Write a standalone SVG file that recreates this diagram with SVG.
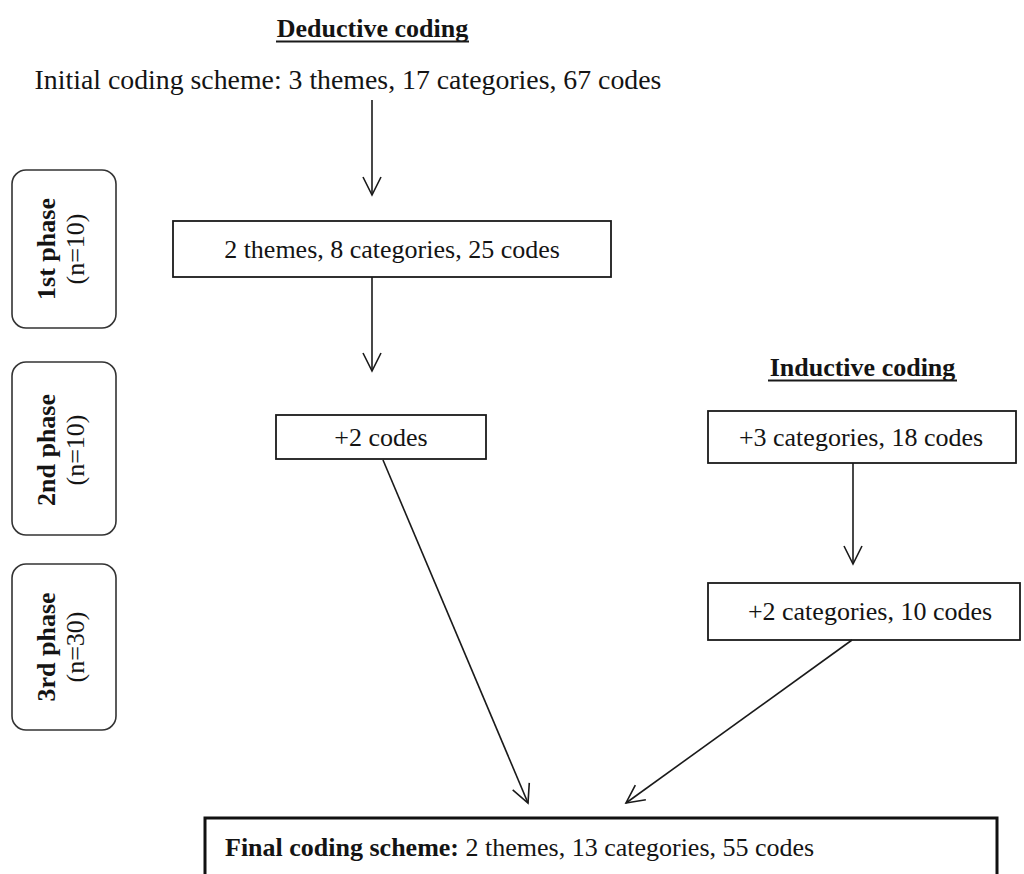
<svg xmlns="http://www.w3.org/2000/svg" width="1024" height="874" viewBox="0 0 1024 874">
  <style>
    .t { font-family: "Liberation Serif", "Times New Roman", serif; font-size: 26px; fill: #141414; }
    .b { font-weight: bold; }
    .box { fill: #ffffff; stroke: #1a1a1a; stroke-width: 1.8; }
    .phase { fill: #ffffff; stroke: #333333; stroke-width: 1.6; }
    .edge { fill: none; stroke: #1a1a1a; stroke-width: 1.6; }
    .ul { stroke: #1a1a1a; stroke-width: 1.8; }
  </style>
  <defs>
    <marker id="open" markerUnits="userSpaceOnUse" markerWidth="22" markerHeight="22" viewBox="0 0 22 22" refX="19" refY="11" orient="auto">
      <path d="M1,2 L19,11 L1,20" fill="none" stroke="#1a1a1a" stroke-width="1.6"/>
    </marker>
  </defs>
  <rect width="1024" height="874" fill="#ffffff"/>

  <!-- section headings -->
  <g id="heading-deductive">
    <text class="t b" x="372.5" y="37" text-anchor="middle">Deductive coding</text>
    <line class="ul" x1="276" y1="41.5" x2="469" y2="41.5"/>
  </g>
  <g id="heading-inductive">
    <text class="t b" x="862.5" y="376" text-anchor="middle">Inductive coding</text>
    <line class="ul" x1="768" y1="380.5" x2="957" y2="380.5"/>
  </g>

  <!-- phase labels -->
  <g id="phase-1">
    <rect class="phase" x="12" y="170" width="104" height="158" rx="14"/>
    <text class="t b" transform="translate(55,249) rotate(-90)" text-anchor="middle">1st phase</text>
    <text class="t" transform="translate(84,249) rotate(-90)" text-anchor="middle">(n=10)</text>
  </g>
  <g id="phase-2">
    <rect class="phase" x="12" y="362" width="104" height="173" rx="14"/>
    <text class="t b" transform="translate(55,450) rotate(-90)" text-anchor="middle">2nd phase</text>
    <text class="t" transform="translate(84,450) rotate(-90)" text-anchor="middle">(n=10)</text>
  </g>
  <g id="phase-3">
    <rect class="phase" x="12" y="564" width="104" height="166" rx="14"/>
    <text class="t b" transform="translate(55,647) rotate(-90)" text-anchor="middle">3rd phase</text>
    <text class="t" transform="translate(84,647) rotate(-90)" text-anchor="middle">(n=30)</text>
  </g>

  <!-- nodes -->
  <g id="initial">
    <text class="t" x="348" y="89" text-anchor="middle" style="font-size:27.8px">Initial coding scheme: 3 themes, 17 categories, 67 codes</text>
  </g>
  <g id="deductive-1">
    <rect class="box" x="173" y="221" width="438" height="56"/>
    <text class="t" x="392" y="258" text-anchor="middle">2 themes, 8 categories, 25 codes</text>
  </g>
  <g id="deductive-2">
    <rect class="box" x="276" y="415" width="210" height="44"/>
    <text class="t" x="381" y="446" text-anchor="middle">+2 codes</text>
  </g>
  <g id="inductive-1">
    <rect class="box" x="708" y="411" width="308" height="52"/>
    <text class="t" x="861" y="446" text-anchor="middle">+3 categories, 18 codes</text>
  </g>
  <g id="inductive-2">
    <rect class="box" x="708" y="583" width="312" height="57"/>
    <text class="t" x="870" y="620" text-anchor="middle">+2 categories, 10 codes</text>
  </g>
  <g id="final">
    <rect x="205" y="818" width="792" height="80" fill="#ffffff" stroke="#111111" stroke-width="3"/>
    <text class="t" x="225" y="856"><tspan class="b">Final coding scheme:</tspan> 2 themes, 13 categories, 55 codes</text>
  </g>

  <!-- connectors -->
  <g id="connectors">
    <line class="edge" x1="372" y1="100" x2="372" y2="195" marker-end="url(#open)"/>
    <line class="edge" x1="372" y1="277" x2="372" y2="371" marker-end="url(#open)"/>
    <line class="edge" x1="853" y1="463" x2="853" y2="564" marker-end="url(#open)"/>
    <line class="edge" x1="383" y1="460" x2="528" y2="803" marker-end="url(#open)"/>
    <line class="edge" x1="852" y1="640" x2="626" y2="803" marker-end="url(#open)"/>
  </g>
</svg>
